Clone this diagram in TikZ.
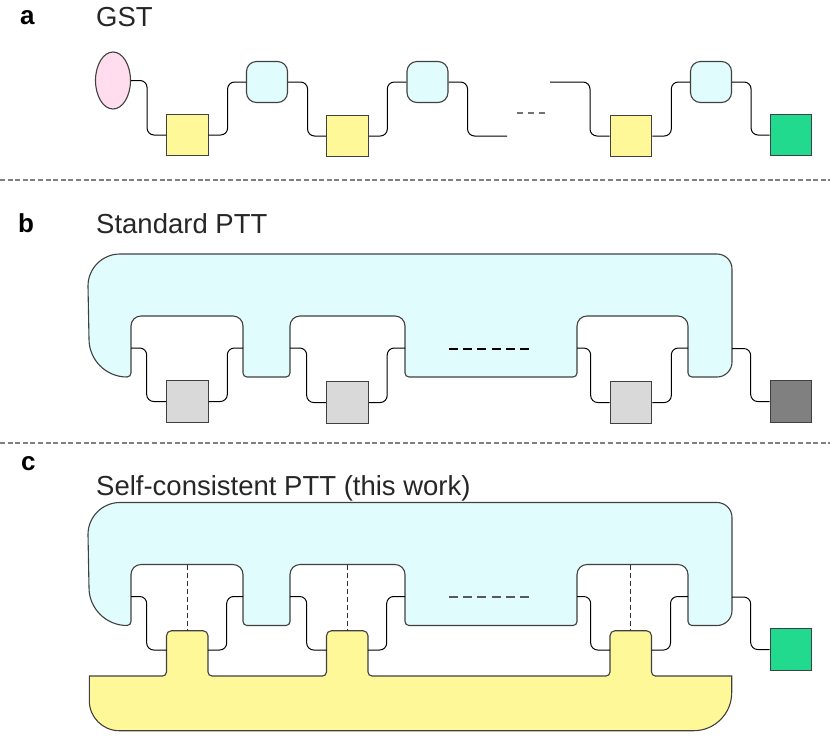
\documentclass[tikz,border=0pt]{standalone}
\usepackage{fontspec}
\setmainfont{Liberation Sans}
\usetikzlibrary{shapes.geometric}
\definecolor{cyanfill}{HTML}{E1FCFD}
\definecolor{yelfill}{HTML}{FFF899}
\definecolor{pinkfill}{HTML}{FFDDEE}
\definecolor{greenfill}{HTML}{22DA8E}
\definecolor{lgray}{HTML}{D9D9D9}
\definecolor{dgray}{HTML}{808080}
\definecolor{edgec}{HTML}{404040}
\definecolor{sepc}{HTML}{808080}
\newcommand\drawcyanshape{%
\draw[shapeline, fill=cyanfill]
 (88,286) arc[start angle=180,end angle=270,radius=32]
 -- (717,254) arc[start angle=270,end angle=360,radius=15]
 -- (732,362) arc[start angle=0,end angle=90,radius=15]
 -- (692,377) arc[start angle=90,end angle=180,radius=4]
 -- (688,326) arc[start angle=0,end angle=-90,radius=10]
 -- (587,316) arc[start angle=-90,end angle=-180,radius=10]
 -- (577,373) arc[start angle=0,end angle=90,radius=4]
 -- (409,377) arc[start angle=90,end angle=180,radius=4]
 -- (405,326) arc[start angle=0,end angle=-90,radius=10]
 -- (300,316) arc[start angle=-90,end angle=-180,radius=10]
 -- (290,373) arc[start angle=0,end angle=90,radius=4]
 -- (247,377) arc[start angle=90,end angle=180,radius=4]
 -- (243,326) arc[start angle=0,end angle=-90,radius=10]
 -- (141,316) arc[start angle=-90,end angle=-180,radius=10]
 -- (131,373) arc[start angle=0,end angle=90,radius=4]
 arc[start angle=90,end angle=180,radius=38]
 -- cycle;}
\begin{document}
\begin{tikzpicture}[x=1pt,y=-1pt,
  wire/.style={draw=black, line width=1pt, rounded corners=7pt},
  shapeline/.style={draw=edgec, line width=1.1pt},
  sq/.style={shapeline, minimum size=41.5pt, inner sep=0pt},
  cybox/.style={shapeline, fill=cyanfill, rounded corners=10pt, minimum size=41pt, inner sep=0pt},
  sepline/.style={draw=sepc, line width=1.2pt, dash pattern=on 5pt off 2.6pt},
  lbl/.style={anchor=base west, inner sep=0pt, font=\bfseries\fontsize{26}{30}\selectfont},
  ttl/.style={anchor=base west, inner sep=0pt, font=\fontsize{27.5}{32}\selectfont, text=black!85},
  vdash/.style={draw=black!80, line width=0.9pt, dash pattern=on 5pt off 3pt}]
\useasboundingbox (0,0) rectangle (830,740);

% ---------- panel a ----------
\node[lbl] (la) at (20,24) {a};
\node[ttl] (ta) at (96,26.7) {GST};
\node[shapeline, fill=pinkfill, ellipse, minimum width=35pt, minimum height=57pt, inner sep=0pt] (e) at (113,80.5) {};
\node[sq, fill=yelfill] (s1) at (187.3,135) {};
\node[cybox] (c1) at (267,82) {};
\node[sq, fill=yelfill] (s2) at (347.5,136) {};
\node[cybox] (c2) at (427.5,82) {};
\coordinate (aend) at (507,136);
\coordinate (ast) at (550,82);
\coordinate (dotl) at (517,113);
\coordinate (dotr) at (545,113);
\node[sq, fill=yelfill] (s3) at (631,136) {};
\node[cybox] (c3) at (711,82) {};
\node[sq, fill=greenfill] (g1) at (791,135) {};
\draw[wire] (e.east) -- ++(16,0) |- (s1.west);
\draw[wire] (s1.east) -- ++(19,0) |- (c1.west);
\draw[wire] (c1.east) -- ++(19.5,0) |- (s2.west);
\draw[wire] (s2.east) -- ++(18.5,0) |- (c2.west);
\draw[wire] (c2.east) -- ++(19,0) |- (aend);
\draw[wire] (ast) -- ++(40,0) |- (s3.west);
\draw[wire] (s3.east) -- ++(19,0) |- (c3.west);
\draw[wire] (c3.east) -- ++(19,0) |- (g1.west);
\draw[draw=black!55, line width=1.2pt, dash pattern=on 6pt off 5pt] (dotl) -- (dotr);

\draw[sepline] (0,180) -- (830,180);

% ---------- panel b ----------
\node[lbl] (lb) at (18,232) {b};
\node[ttl] (tb) at (96,233.3) {Standard PTT};
\drawcyanshape
\node[sq, fill=lgray] (sb1) at (187.3,401.5) {};
\node[sq, fill=lgray] (sb2) at (347.5,402.5) {};
\node[sq, fill=lgray] (sb3) at (631,402.5) {};
\node[sq, fill=dgray] (sb4) at (791,401.5) {};
\coordinate (b1in) at (131,348);
\coordinate (b1out) at (243,348);
\coordinate (b2in) at (290,348);
\coordinate (b2out) at (405,348);
\coordinate (b3in) at (577,348);
\coordinate (b3out) at (688,348);
\coordinate (bend) at (732,348.5);
\draw[wire] (b1in) -- ++(15.7,0) |- (sb1.west);
\draw[wire] (sb1.east) -- ++(18.7,0) |- (b1out);
\draw[wire] (b2in) -- ++(16.7,0) |- (sb2.west);
\draw[wire] (sb2.east) -- ++(18.4,0) |- (b2out);
\draw[wire] (b3in) -- ++(13.7,0) |- (sb3.west);
\draw[wire] (sb3.east) -- ++(19,0) |- (b3out);
\draw[wire] (bend) -- ++(18.7,0) |- (sb4.west);
\coordinate (bdl) at (449,349);
\coordinate (bdr) at (529,349);
\draw[draw=black, line width=1.1pt, dash pattern=on 9pt off 5.2pt] (bdl) -- (bdr);

\draw[sepline] (0,443) -- (830,443);

% ---------- panel c ----------
\node[lbl] (lc) at (21,470) {c};
\node[ttl] (tc) at (96,495) {Self-consistent PTT (this work)};
\begin{scope}[shift={(0,248.5)}]
\drawcyanshape
\end{scope}
\draw[shapeline, fill=yelfill]
 (89.3,676) -- (162.5,676)
 arc[start angle=90,end angle=0,radius=4] -- ++(0,-36.3)
 arc[start angle=180,end angle=270,radius=5] -- ++(31.5,0)
 arc[start angle=270,end angle=360,radius=5] -- ++(0,36.3)
 arc[start angle=180,end angle=90,radius=4]
 -- (322.5,676)
 arc[start angle=90,end angle=0,radius=4] -- ++(0,-36.3)
 arc[start angle=180,end angle=270,radius=5] -- ++(31.5,0)
 arc[start angle=270,end angle=360,radius=5] -- ++(0,36.3)
 arc[start angle=180,end angle=90,radius=4]
 -- (606,676)
 arc[start angle=90,end angle=0,radius=4] -- ++(0,-36.3)
 arc[start angle=180,end angle=270,radius=5] -- ++(31.5,0)
 arc[start angle=270,end angle=360,radius=5] -- ++(0,36.3)
 arc[start angle=180,end angle=90,radius=4]
 -- (731.7,676) -- (731.7,692.7)
 arc[start angle=0,end angle=90,radius=38]
 -- (119.3,730.7)
 arc[start angle=90,end angle=180,radius=30]
 -- cycle;
\coordinate (y1w) at (166.5,650);
\coordinate (y1e) at (208,650);
\coordinate (y2w) at (326.5,650);
\coordinate (y2e) at (368,650);
\coordinate (y3w) at (610,650);
\coordinate (y3e) at (651.5,650);
\coordinate (c1in) at (131,596.5);
\coordinate (c1out) at (243,596.5);
\coordinate (c2in) at (290,596.5);
\coordinate (c2out) at (405,596.5);
\coordinate (c3in) at (577,596.5);
\coordinate (c3out) at (688,596.5);
\coordinate (cend) at (732,597);
\node[sq, fill=greenfill] (g2) at (791,649.5) {};
\draw[wire] (c1in) -- ++(15.7,0) |- (y1w);
\draw[wire] (y1e) -- ++(18.7,0) |- (c1out);
\draw[wire] (c2in) -- ++(16.7,0) |- (y2w);
\draw[wire] (y2e) -- ++(18.7,0) |- (c2out);
\draw[wire] (c3in) -- ++(13.7,0) |- (y3w);
\draw[wire] (y3e) -- ++(19,0) |- (c3out);
\draw[wire] (cend) -- ++(18.7,0) |- (g2.west);
\coordinate (d1t) at (187.25,564.5);
\coordinate (d1b) at (187.25,630.7);
\coordinate (d2t) at (347.25,564.5);
\coordinate (d2b) at (347.25,630.7);
\coordinate (d3t) at (630.75,564.5);
\coordinate (d3b) at (630.75,630.7);
\draw[vdash] (d1t) -- (d1b);
\draw[vdash] (d2t) -- (d2b);
\draw[vdash] (d3t) -- (d3b);
\coordinate (cdl) at (449,597);
\coordinate (cdr) at (529,597);
\draw[draw=black!65, line width=1.1pt, dash pattern=on 9pt off 5.2pt] (cdl) -- (cdr);
\end{tikzpicture}
\end{document}
